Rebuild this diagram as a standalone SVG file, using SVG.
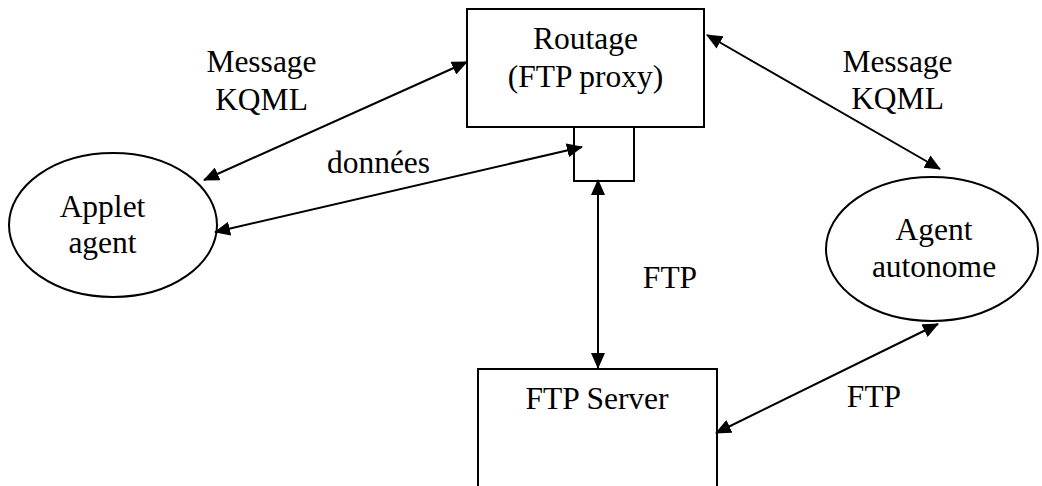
<svg xmlns="http://www.w3.org/2000/svg" width="1042" height="486" viewBox="0 0 1042 486">
  <defs>
    <marker id="arr" markerUnits="userSpaceOnUse" markerWidth="16" markerHeight="14" refX="15" refY="7" orient="auto-start-reverse" viewBox="0 0 16 14">
      <path d="M0,0 L16,7 L0,14 Z" fill="#000"/>
    </marker>
  </defs>
  <style>
    .shape { fill: #fff; stroke: #000; stroke-width: 2; }
    .lbl { font-family: 'Liberation Serif', 'DejaVu Serif', serif; font-size: 31.5px; fill: #000; text-anchor: middle; }
    .conn { stroke: #000; stroke-width: 2; fill: none; marker-start: url(#arr); marker-end: url(#arr); }
  </style>
  <rect width="1042" height="486" fill="#fff"/>

  <g id="routage">
    <rect class="shape" x="467" y="9" width="237" height="118"/>
    <text class="lbl" x="585.5" y="49">Routage</text>
    <text class="lbl" x="585.5" y="87">(FTP proxy)</text>
  </g>

  <g id="port">
    <rect class="shape" x="574" y="127" width="60" height="54"/>
  </g>

  <g id="applet">
    <ellipse class="shape" cx="113" cy="225" rx="104" ry="72"/>
    <text class="lbl" x="102.5" y="217">Applet</text>
    <text class="lbl" x="102.5" y="253">agent</text>
  </g>

  <g id="autonome">
    <ellipse class="shape" cx="932" cy="249" rx="106" ry="72"/>
    <text class="lbl" x="934" y="240">Agent</text>
    <text class="lbl" x="934" y="277">autonome</text>
  </g>

  <g id="ftpserver">
    <rect class="shape" x="478" y="369" width="239" height="130"/>
    <text class="lbl" x="597" y="409">FTP Server</text>
  </g>

  <g id="connectors">
    <line class="conn" x1="204" y1="180" x2="467" y2="62"/>
    <line class="conn" x1="215" y1="232" x2="582" y2="147"/>
    <line class="conn" x1="707" y1="35" x2="940" y2="169"/>
    <line class="conn" x1="598" y1="180" x2="598" y2="368"/>
    <line class="conn" x1="716" y1="433" x2="938" y2="324"/>
  </g>

  <g id="labels">
    <text class="lbl" x="261.5" y="72">Message</text>
    <text class="lbl" x="261.5" y="110">KQML</text>
    <text class="lbl" x="378.5" y="173">données</text>
    <text class="lbl" x="897.5" y="72">Message</text>
    <text class="lbl" x="897.5" y="109">KQML</text>
    <text class="lbl" x="670" y="288">FTP</text>
    <text class="lbl" x="874" y="407">FTP</text>
  </g>
</svg>
